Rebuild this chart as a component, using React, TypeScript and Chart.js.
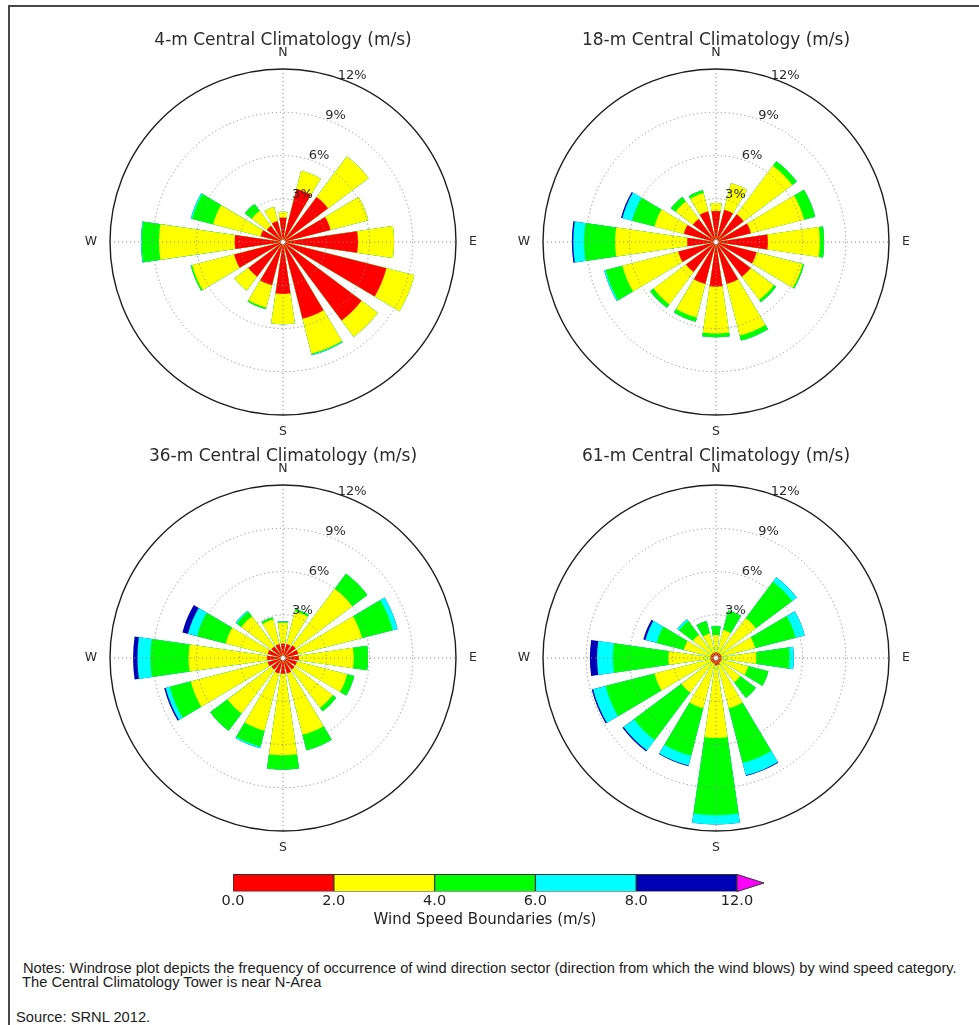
import React, { useEffect, useRef } from 'react';
import { Chart, registerables } from 'chart.js';

Chart.register(...registerables);

const directions = ['N', 'NNE', 'NE', 'ENE', 'E', 'ESE', 'SE', 'SSE', 'S', 'SSW', 'SW', 'WSW', 'W', 'WNW', 'NW', 'NNW'];
const speedBins = ['0.0-2.0', '2.0-4.0', '4.0-6.0', '6.0-8.0', '8.0-12.0'];
const binColors = ['#ff0000', '#ffff00', '#00ff00', '#00ffff', '#0000b4'];
const boundaryLabels = ['0.0', '2.0', '4.0', '6.0', '8.0', '12.0'];
const ringTicks = [3, 6, 9, 12];

// frequency (%) by direction for each speed bin
const h4_0to2 = [1.7, 3.8, 3.9, 3.4, 5.2, 7.4, 6.8, 5.5, 3.6, 3.1, 3.0, 3.5, 3.35, 1.6, 1.4, 1.5];
const h4_2to4 = [0.4, 1.3, 3.5, 2.7, 2.5, 2.0, 1.4, 2.5, 2.1, 1.6, 1.2, 3.0, 5.25, 3.4, 1.3, 1.0];
const h4_4to6 = [0, 0, 0, 0, 0, 0, 0, 0.05, 0, 0.1, 0, 0.1, 1.2, 1.5, 0.6, 0];
const h4_6to8 = [0, 0, 0, 0, 0, 0, 0, 0.05, 0, 0, 0, 0, 0.05, 0.1, 0, 0];
const h4_8to12 = [0, 0, 0, 0, 0, 0, 0, 0, 0, 0, 0, 0, 0, 0, 0, 0];

const h18_0to2 = [2.15, 2.3, 2.4, 2.5, 3.6, 2.9, 3.0, 3.0, 3.1, 3.0, 2.6, 2.7, 2.0, 2.3, 2.0, 2.2];
const h18_2to4 = [0.55, 1.9, 4.2, 3.8, 3.6, 3.3, 2.0, 3.7, 3.25, 2.4, 2.8, 4.0, 5.0, 2.1, 1.5, 1.3];
const h18_4to6 = [0, 0, 0.4, 0.8, 0.3, 0.1, 0.2, 0.35, 0.25, 0.3, 0.3, 1.2, 2.15, 1.6, 0.4, 0.2];
const h18_6to8 = [0, 0, 0, 0, 0, 0, 0, 0, 0, 0, 0, 0.1, 0.75, 0.7, 0, 0];
const h18_8to12 = [0, 0, 0, 0, 0, 0, 0, 0, 0, 0, 0, 0, 0.1, 0.1, 0, 0];

const h36_0to2 = [1.0, 1.0, 1.1, 1.1, 1.1, 1.0, 1.0, 1.1, 1.1, 1.1, 1.0, 1.1, 1.1, 1.1, 1.0, 1.0];
const h36_2to4 = [1.45, 2.35, 4.9, 4.55, 3.8, 3.6, 3.3, 4.4, 5.65, 4.1, 3.8, 5.5, 5.45, 3.0, 2.6, 1.75];
const h36_4to6 = [0.05, 0.15, 1.3, 2.2, 1.0, 0.5, 0.3, 1.1, 1.0, 1.15, 1.5, 1.5, 2.65, 2.05, 0.4, 0.15];
const h36_6to8 = [0.05, 0, 0, 0.35, 0, 0, 0, 0, 0, 0.1, 0, 0.3, 0.9, 0.65, 0.1, 0];
const h36_8to12 = [0, 0, 0, 0, 0, 0, 0, 0, 0, 0, 0, 0.1, 0.3, 0.4, 0, 0];

const h61_0to2 = [0.4, 0.4, 0.4, 0.4, 0.4, 0.4, 0.4, 0.5, 0.5, 0.4, 0.4, 0.4, 0.4, 0.4, 0.4, 0.4];
const h61_2to4 = [1.2, 1.6, 3.05, 2.4, 2.4, 1.9, 1.7, 3.1, 5.05, 3.2, 2.6, 4.0, 2.9, 1.9, 1.6, 1.35];
const h61_4to6 = [0.6, 1.4, 3.15, 2.9, 2.3, 1.45, 1.35, 3.9, 5.35, 3.4, 4.1, 3.5, 3.85, 1.95, 1.2, 0.9];
const h61_6to8 = [0, 0, 0.4, 0.65, 0.3, 0, 0, 0.9, 0.65, 0.7, 0.9, 0.9, 1.1, 0.8, 0.15, 0];
const h61_8to12 = [0, 0, 0, 0, 0, 0, 0, 0.05, 0, 0.05, 0.1, 0.1, 0.5, 0.15, 0, 0];

const WEDGE = 16.5; // degrees covered by one bar
const GAP = 360 / 16 - WEDGE;
const FONT = "'DejaVu Sans', sans-serif";

function roseDecor(title: string) {
  return {
    id: 'roseDecor',
    afterDatasetsDraw(chart: any) {
      const ctx = chart.ctx;
      const s = chart.scales.r;
      const cx = s.xCenter;
      const cy = s.yCenter;
      const R = s.getDistanceFromCenterForValue(12);
      ctx.save();

      // dotted rings and cross lines
      ctx.strokeStyle = '#8c8c8c';
      ctx.lineWidth = 1;
      ctx.setLineDash([1.2, 2.8]);
      ringTicks.slice(0, -1).forEach((v) => {
        ctx.beginPath();
        ctx.arc(cx, cy, s.getDistanceFromCenterForValue(v), 0, Math.PI * 2);
        ctx.stroke();
      });
      ctx.beginPath();
      ctx.moveTo(cx - R, cy);
      ctx.lineTo(cx + R, cy);
      ctx.moveTo(cx, cy - R);
      ctx.lineTo(cx, cy + R);
      ctx.stroke();

      // outer frame
      ctx.setLineDash([]);
      ctx.strokeStyle = '#1e1e1e';
      ctx.lineWidth = 1.4;
      ctx.beginPath();
      ctx.arc(cx, cy, R, 0, Math.PI * 2);
      ctx.stroke();

      // centre marker
      ctx.fillStyle = '#ffffff';
      ctx.strokeStyle = '#777';
      ctx.lineWidth = 0.8;
      ctx.beginPath();
      ctx.arc(cx, cy, 2.5, 0, Math.PI * 2);
      ctx.fill();
      ctx.stroke();

      ctx.fillStyle = '#2a2a2a';
      ctx.textAlign = 'center';
      ctx.textBaseline = 'middle';

      ctx.font = `13px ${FONT}`;
      const a = (22.5 * Math.PI) / 180;
      ringTicks.forEach((v) => {
        const d = s.getDistanceFromCenterForValue(v) + 7.5;
        ctx.fillText(`${v}%`, cx + d * Math.sin(a), cy - d * Math.cos(a));
      });

      ctx.font = `12.5px ${FONT}`;
      ctx.fillText('N', cx, cy - R - 16);
      ctx.fillText('E', cx + R + 17, cy);
      ctx.fillText('S', cx, cy + R + 17);
      ctx.fillText('W', cx - R - 19, cy);

      ctx.font = `17px ${FONT}`;
      ctx.fillText(title, cx, cy - 201);
      ctx.restore();
    },
  };
}

interface WindroseProps {
  title: string;
  bins: number[][];
  left: number;
  top: number;
}

function Windrose({ title, bins, left, top }: WindroseProps) {
  const canvasRef = useRef<HTMLCanvasElement>(null);
  const chartRef = useRef<Chart | null>(null);

  useEffect(() => {
    if (!canvasRef.current) return;
    if (chartRef.current) chartRef.current.destroy();

    const labels: string[] = [];
    directions.forEach((d) => {
      labels.push(d);
      labels.push('');
    });

    // stacked bars: each bin is drawn as the running total, smallest on top
    const datasets = bins.map((bin, b) => {
      const data: number[] = [];
      directions.forEach((_, i) => {
        let total = 0;
        for (let k = 0; k <= b; k++) total += bins[k][i];
        data.push(total);
        data.push(0);
      });
      return {
        label: speedBins[b],
        data,
        backgroundColor: binColors[b],
        borderWidth: 0,
        angle: (c: any) => (c.dataIndex % 2 === 0 ? WEDGE : GAP),
      };
    });

    chartRef.current = new Chart(canvasRef.current, {
      type: 'polarArea',
      data: { labels, datasets },
      options: {
        responsive: false,
        animation: false,
        events: [],
        layout: { padding: { left: 37, right: 37, top: 42, bottom: 32 } },
        plugins: {
          legend: { display: false },
          tooltip: { enabled: false },
        },
        scales: {
          r: {
            min: 0,
            max: 12,
            startAngle: -WEDGE / 2,
            ticks: { display: false, stepSize: 3 },
            grid: { display: false },
            angleLines: { display: false },
            pointLabels: { display: false },
          },
        },
      } as any,
      plugins: [roseDecor(title)],
    });

    return () => {
      if (chartRef.current) {
        chartRef.current.destroy();
        chartRef.current = null;
      }
    };
  }, [title, bins]);

  return (
    <canvas
      ref={canvasRef}
      width={420}
      height={420}
      style={{ position: 'absolute', left, top, width: 420, height: 420 }}
    />
  );
}

// colour bar: the bar sits in the last of three category rows
const barRows = ['', '', 'speed'];

const extendArrow = {
  id: 'extendArrow',
  afterDatasetsDraw(chart: any) {
    const ctx = chart.ctx;
    const x = chart.scales.x.getPixelForValue(5);
    const el = chart.getDatasetMeta(chart.data.datasets.length - 1).data[barRows.length - 1];
    const { y, height } = el.getProps(['y', 'height'], true);
    const top = y - height / 2;
    const bottom = y + height / 2;
    ctx.save();
    ctx.fillStyle = '#ff00ff';
    ctx.strokeStyle = '#333';
    ctx.lineWidth = 1;
    ctx.beginPath();
    ctx.moveTo(x, top);
    ctx.lineTo(x + 27, (top + bottom) / 2);
    ctx.lineTo(x, bottom);
    ctx.closePath();
    ctx.fill();
    ctx.stroke();
    ctx.restore();
  },
};

function Colorbar() {
  const canvasRef = useRef<HTMLCanvasElement>(null);
  const chartRef = useRef<Chart | null>(null);

  useEffect(() => {
    if (!canvasRef.current) return;
    if (chartRef.current) chartRef.current.destroy();

    chartRef.current = new Chart(canvasRef.current, {
      type: 'bar',
      data: {
        labels: barRows,
        datasets: speedBins.map((b, i) => ({
          label: b,
          data: [null, null, 1],
          backgroundColor: binColors[i],
          borderColor: '#333',
          borderWidth: 1,
          borderSkipped: false,
          barPercentage: 1,
          categoryPercentage: 1,
        })),
      },
      options: {
        indexAxis: 'y',
        responsive: false,
        animation: false,
        events: [],
        layout: { padding: { left: 33, right: 63, top: 0, bottom: 0 } },
        plugins: {
          legend: { display: false },
          tooltip: { enabled: false },
        },
        scales: {
          x: {
            stacked: true,
            min: 0,
            max: 5,
            grid: { display: false, drawTicks: false },
            border: { display: false },
            ticks: {
              stepSize: 1,
              padding: 1,
              maxRotation: 0,
              color: '#222',
              font: { family: FONT, size: 14.5 },
              callback: (v: any) => boundaryLabels[v],
            },
            title: {
              display: true,
              text: 'Wind Speed Boundaries (m/s)',
              color: '#222',
              font: { family: FONT, size: 15 },
              padding: { top: 0, bottom: 0 },
            },
          },
          y: { stacked: true, display: false },
        },
      } as any,
      plugins: [extendArrow],
    });

    return () => {
      if (chartRef.current) {
        chartRef.current.destroy();
        chartRef.current = null;
      }
    };
  }, []);

  return (
    <canvas
      ref={canvasRef}
      width={600}
      height={89}
      style={{ position: 'absolute', left: 200, top: 840, width: 600, height: 89 }}
    />
  );
}

const noteStyle: React.CSSProperties = {
  position: 'absolute',
  fontFamily: "'Liberation Sans', Arial, sans-serif",
  fontSize: 14.7,
  lineHeight: '16px',
  color: '#1c1c1c',
  whiteSpace: 'nowrap',
};

export default function App() {
  return (
    <div style={{ position: 'absolute', left: 0, top: 0, width: 979, height: 1025, overflow: 'hidden', background: '#fff' }}>
      <div
        style={{
          position: 'absolute',
          left: 8,
          top: 5,
          width: 971,
          height: 1020,
          boxSizing: 'border-box',
          borderTop: '2px solid #474747',
          borderLeft: '2px solid #474747',
        }}
      />
      <Windrose title="4-m Central Climatology (m/s)" bins={[h4_0to2, h4_2to4, h4_4to6, h4_6to8, h4_8to12]} left={73} top={27} />
      <Windrose title="18-m Central Climatology (m/s)" bins={[h18_0to2, h18_2to4, h18_4to6, h18_6to8, h18_8to12]} left={506} top={27} />
      <Windrose title="36-m Central Climatology (m/s)" bins={[h36_0to2, h36_2to4, h36_4to6, h36_6to8, h36_8to12]} left={73} top={443} />
      <Windrose title="61-m Central Climatology (m/s)" bins={[h61_0to2, h61_2to4, h61_4to6, h61_6to8, h61_8to12]} left={506} top={443} />
      <Colorbar />
      <div style={{ ...noteStyle, left: 23, top: 960 }}>
        Notes: Windrose plot depicts the frequency of occurrence of wind direction sector (direction from which the wind blows) by wind speed category.
      </div>
      <div style={{ ...noteStyle, left: 22, top: 974 }}>The Central Climatology Tower is near N-Area</div>
      <div style={{ ...noteStyle, left: 16, top: 1009 }}>Source: SRNL 2012.</div>
    </div>
  );
}
